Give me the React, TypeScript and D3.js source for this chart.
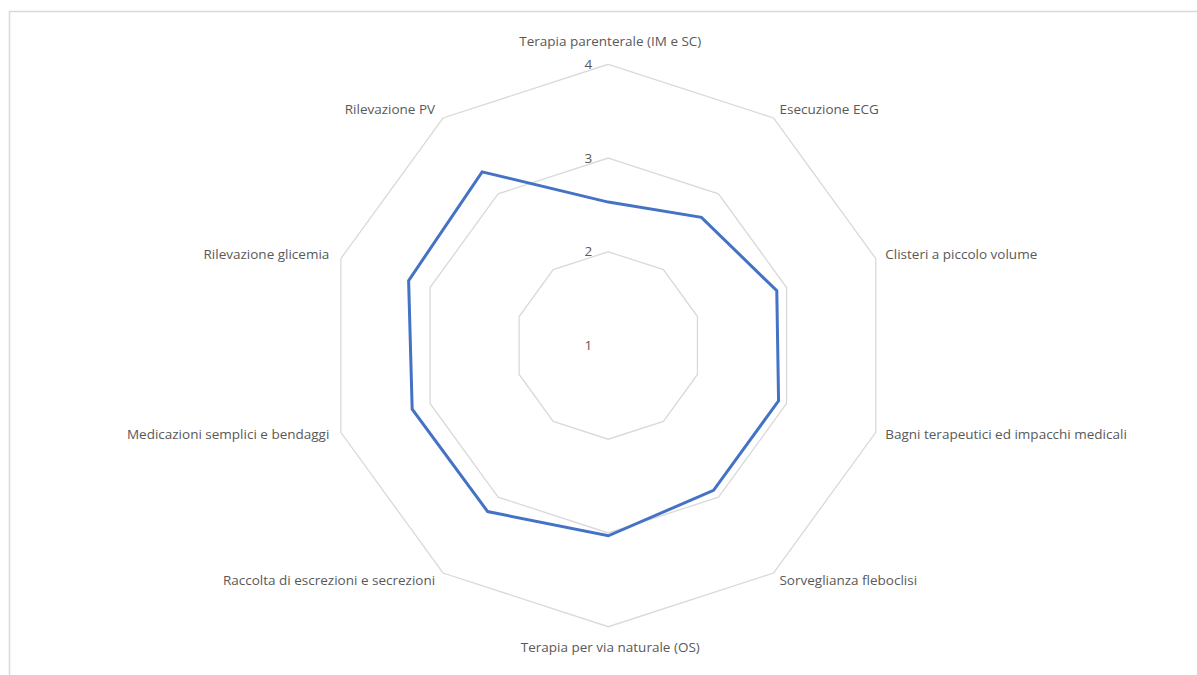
import React from "react";
import * as d3 from "d3";

// Skill areas around the radar, clockwise from the top
const categories: string[] = [
  "Terapia parenterale (IM e SC)",
  "Esecuzione ECG",
  "Clisteri a piccolo volume",
  "Bagni terapeutici ed impacchi medicali",
  "Sorveglianza fleboclisi",
  "Terapia per via naturale (OS)",
  "Raccolta di escrezioni e secrezioni",
  "Medicazioni semplici e bendaggi",
  "Rilevazione glicemia",
  "Rilevazione PV",
];

// Mean score per skill area
const scores: number[] = [2.53, 2.69, 2.89, 2.91, 2.91, 3.03, 3.19, 3.2, 3.24, 3.29];

// Radial axis ticks
const ticks: number[] = [1, 2, 3, 4];

const W = 1197;
const H = 675;
const cx = 608.3;
const cy = 345.5;
const R = 281.2;
const FONT = "'Open Sans', Lato, sans-serif";
const TEXT = "#595959";
const FS = 13.5;

export default function App() {
  const n = categories.length;
  const r = d3.scaleLinear().domain([1, 4]).range([0, R]);
  const angle = (i: number) => (i / n) * 2 * Math.PI;
  const pt = (i: number, rad: number): [number, number] => [
    cx + rad * Math.sin(angle(i)),
    cy - rad * Math.cos(angle(i)),
  ];

  const closedLine = d3
    .line<[number, number]>()
    .x((d) => d[0])
    .y((d) => d[1])
    .curve(d3.curveLinearClosed);

  const ringPaths = ticks.slice(1).map((t) =>
    closedLine(categories.map((_, i) => pt(i, r(t))))
  );
  const dataPath = closedLine(scores.map((v, i) => pt(i, r(v))));

  const labels = categories.map((c, i) => {
    const s = Math.sin(angle(i));
    const co = Math.cos(angle(i));
    let [x, y] = pt(i, R + 10);
    let anchor: "start" | "middle" | "end" = "middle";
    if (Math.abs(s) < 1e-6) {
      x = cx + 2;
      y = co > 0 ? cy - R - 22 : cy + R + 22;
    } else {
      anchor = s > 0 ? "start" : "end";
      if (s < 0) x -= 2;
    }
    return { c, x, y, anchor };
  });

  return (
    <svg
      width={W}
      height={H}
      style={{ position: "fixed", left: 0, top: 0, background: "#fff" }}
      fontFamily={FONT}
    >
      <rect x={9.5} y={11.5} width={W + 10} height={H + 10} fill="#fff" stroke="#d9d9d9" strokeWidth={1.5} />
      {ringPaths.map((d, k) => (
        <path key={k} d={d || ""} fill="none" stroke="#d9d9d9" strokeWidth={1.3} />
      ))}
      {ticks.map((t) => (
        <text
          key={t}
          x={cx - 20}
          y={cy - r(t) + 1}
          textAnchor="middle"
          dominantBaseline="middle"
          fontSize={FS}
          fill={TEXT}
        >
          {t}
        </text>
      ))}
      <path d={dataPath || ""} fill="none" stroke="#4472C4" strokeWidth={3} strokeLinejoin="miter" />
      {labels.map((l) => (
        <text
          key={l.c}
          x={l.x}
          y={l.y}
          textAnchor={l.anchor}
          dominantBaseline="middle"
          fontSize={FS}
          fill={TEXT}
        >
          {l.c}
        </text>
      ))}
    </svg>
  );
}
